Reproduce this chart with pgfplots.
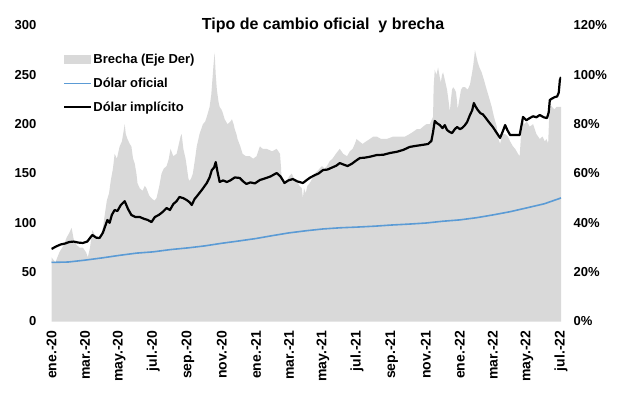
\documentclass[border=0pt]{standalone}
\usepackage{fontspec}
\setmainfont{Liberation Sans}
\usepackage{pgfplots}
\pgfplotsset{compat=1.18}
\definecolor{brgray}{RGB}{217,217,217}
\definecolor{ofblue}{RGB}{91,155,213}
\pgfplotsset{
  arealeg/.style={legend image code/.code={\fill[##1] (0pt,-4.5pt) rectangle (27pt,4.5pt);}},
  lineleg/.style={legend image code/.code={\draw[##1] (0pt,0pt) -- (27pt,0pt);}},
  common/.style={
    at={(0pt,0pt)}, anchor=south west,
    scale only axis, width=509.5pt, height=296pt,
    xmin=0, xmax=912,
    axis line style={draw=none}, tick style={draw=none},
    /pgf/number format/assume math mode=true,
  }
}

\begin{document}
\begin{tikzpicture}
\useasboundingbox (-51.5pt,-70.5pt) rectangle (565.5pt,321.5pt);
% ---------- Brecha (right axis) ----------
\begin{axis}[common,
  ymin=0, ymax=120, ytick={0,20,...,120},
  axis y line*=right, axis x line*=bottom,
  xtick=\empty,
  yticklabel={\pgfmathprintnumber{\tick}\%},
  yticklabel style={anchor=west, inner sep=0pt, xshift=12.5pt, font=\bfseries\fontsize{13}{15}\selectfont},
]
\addplot[fill=brgray, draw=none] table {
0 26
7 24
14 28
22 31
27 34
32 36
36 38
40 33
45 31
50 30
56 30
62 28
65 26
69 30
73 37
78 35
86 33
92 38
99 49
103 52
106 57
110 62
113 68
117 66
122 71
126 73
129 77
131 80
133 76
136 74
140 72
143 71
146 66
149 64
152 60
154 56
158 54
163 53
167 55
170 54
175 51
179 50
184 49
188 50
193 55
197 60
201 62
206 63
210 66
213 70
218 67
224 68
228 72
231 75
233 76
236 70
240 66
242 63
245 58
247 57
250 58
253 60
257 66
260 71
265 76
271 80
275 81
278 83
283 87
286 92
288 98
290 104
292 109
294 100
296 94
299 89
301 87
304 86
306 85
310 82
315 80
320 81
323 82
326 80
328 78
331 76
333 74
338 71
342 68
348 67
355 67
361 66
367 67
373 71
378 70
385 70
395 69
403 70
409 68
411 62
412 56
417 57
421 57
426 59
430 60
434 58
439 57
444 55
448 54
450 50
452 54
455 52
458 55
462 56
467 58
471 60
476 61
484 63
489 62
493 63
498 65
503 66
509 68
516 70
522 68
529 67
534 69
539 70
543 72
546 74
551 73
557 72
563 73
570 74
576 75
582 75
590 74
600 74
612 75
624 75
633 75
641 76
648 77
654 78
660 78
665 79
671 80
677 80
681 82
683 83
684 95
686 102
689 100
692 103
695 99
697 97
699 100
701 101
704 98
708 94
711 89
713 85
715 90
717 94
719 95
722 94
724 93
726 89
727 86
730 90
733 94
736 95
740 95
745 94
749 96
753 101
755 104
757 108
758 110
760 108
763 105
766 103
770 101
774 98
779 94
783 91
788 87
792 83
797 79
800 74
803 72
806 75
808 76
812 76
817 75
821 73
826 71
830 70
835 68
838 67
840 74
842 83
846 80
851 81
856 79
862 80
868 76
874 74
879 75
883 73
886 74
889 72
891 84
893 88
896 87
900 86
904 87
908 87
912 87
} \closedcycle;
\end{axis}
% ---------- Lines (left axis) ----------
\begin{axis}[common,
  ymin=0, ymax=300, ytick={0,50,...,300},
  axis y line*=left, axis x line*=bottom,
  xtick={0,60,121,182,244,305,366,425,486,547,609,670,731,790,851,912},
  xticklabels={ene.-20,mar.-20,may.-20,jul.-20,sep.-20,nov.-20,ene.-21,mar.-21,may.-21,jul.-21,sep.-21,nov.-21,ene.-22,mar.-22,may.-22,jul.-22},
  xticklabel style={rotate=90, anchor=east, inner sep=0pt, xshift=-9pt, font=\bfseries\fontsize{14}{16}\selectfont},
  yticklabel style={anchor=east, inner sep=0pt, xshift=-15pt, font=\bfseries\fontsize{13}{15}\selectfont},
  title={Tipo de cambio oficial~ y brecha},
  title style={at={(0.533,0.979)}, anchor=center, inner sep=0pt, font=\bfseries\fontsize{16}{18}\selectfont},
  legend cell align=left,
  legend style={draw=none, fill=none, at={(0.0226,0.9075)}, anchor=north west,
    inner sep=0pt, row sep=10.8pt, font=\bfseries\fontsize{13}{15}\selectfont,
    nodes={inner sep=1pt},
    /tikz/every even column/.append style={column sep=3pt}},
]
\addlegendimage{fill=brgray, draw=none, arealeg}
\addlegendentry{Brecha (Eje Der)}
\addplot[ofblue, line width=1.6pt, lineleg] table {
0 59.9
30 60.3
60 62.2
91 64.5
121 67.0
152 69.3
182 70.6
213 72.9
244 74.6
274 76.6
305 79.3
335 81.6
366 84.1
397 87.2
425 89.8
456 92.0
486 93.8
517 95.0
547 95.7
578 96.6
609 97.8
639 98.7
670 99.8
700 101.6
731 103.0
762 105.3
790 108.0
821 111.3
851 115.2
882 119.3
912 125.2
};
\addlegendentry{Dólar oficial}
\addplot[black, line width=2.2pt, line join=round, lineleg] table {
0 73.5
8 76
16 78
24 79
32 80.6
40 81
48 80
56 79.6
64 81
73 87.7
80 85
86 84.6
92 90
100 102.9
104 100
108 108
113 113
118 112
124 118
131 122
137 114
143 107.9
150 106
158 105.9
166 104
172 103
179 100.8
185 105.9
192 108
199 111
206 115
212 113
218 119
224 122
229 126.2
236 125
242 123.1
247 121
251 118.1
256 124
262 128.2
270 134
278 140.4
283 146
287 153.5
291 156
294 161.6
297 152
301 141.4
307 143
314 141.4
320 143
328 146
337 145.5
343 142
349 139.4
356 141
364 140
373 143.4
382 145
392 147
403 150.5
410 147
417 140.4
424 143
432 144.4
440 142
450 140.4
456 143
462 145.5
470 148
478 150
486 153.5
494 154
502 156
510 158
516 160.6
523 159
530 157.6
538 160
545 163
552 165.7
560 166
570 167
582 168.7
594 169
606 170.8
618 172
630 174
641 176.9
652 178
664 179
674 179.9
680 183
683 192
686 203.2
690 201
695 199.1
700 196
704 199
708 194.1
713 192
717 191
722 195
726 197.1
731 195
735 196.1
740 199
744 202.2
749 209.3
753 214
756 221.4
759 218
763 214.4
768 211
772 210
776 207.3
783 202
790 197.1
796 192
803 186
808 193
812 199.1
816 194
821 189
830 189
838 189
841 198
844 207.3
850 204
856 206.2
862 208
868 207
874 209.3
881 207
887 206.2
890 212
892 224.5
896 226
901 227.5
905 228
908 232
910 244.8
912 247.8
};
\addlegendentry{Dólar implícito}
\end{axis}
\end{tikzpicture}
\end{document}
